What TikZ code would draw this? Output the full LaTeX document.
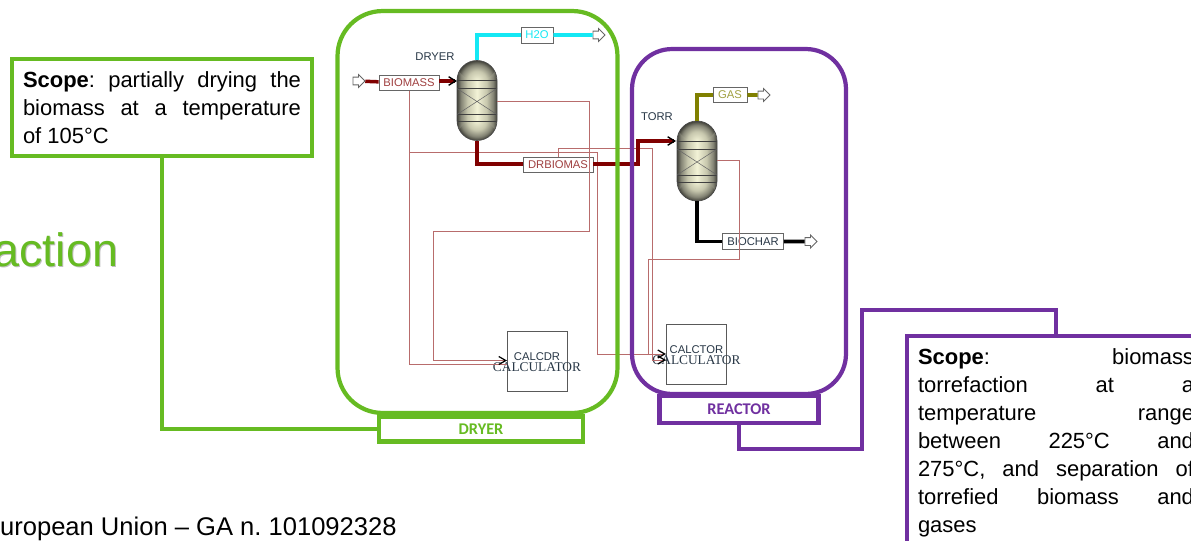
\documentclass[tikz,border=0pt]{standalone}
\usepackage{fontspec}
\setmainfont{Liberation Sans}
\newfontfamily\serifcalc{Liberation Serif}
\newfontfamily\tagfont{Carlito}
\usetikzlibrary{arrows.meta,positioning,shapes.arrows}
\frenchspacing
\definecolor{dryergreen}{RGB}{102,187,34}
\definecolor{reactpurple}{RGB}{112,48,160}
\definecolor{feedred}{RGB}{128,0,0}
\definecolor{signalred}{RGB}{184,108,108}
\definecolor{waterblue}{RGB}{20,232,244}
\definecolor{gasolive}{RGB}{128,128,0}
\definecolor{labeltext}{RGB}{40,55,70}
\pgfdeclarehorizontalshading{vesselbody}{100bp}{rgb(0bp)=(0.25,0.25,0.22); rgb(25bp)=(0.25,0.25,0.22); rgb(30bp)=(0.52,0.52,0.46); rgb(38bp)=(0.78,0.78,0.68); rgb(50bp)=(0.95,0.95,0.84); rgb(62bp)=(0.78,0.78,0.68); rgb(70bp)=(0.52,0.52,0.46); rgb(75bp)=(0.25,0.25,0.22); rgb(100bp)=(0.25,0.25,0.22)}
\pgfdeclareradialshading{vesselcap}{\pgfpointorigin}{rgb(0bp)=(0.95,0.95,0.84); rgb(12bp)=(0.78,0.78,0.68); rgb(20bp)=(0.52,0.52,0.46); rgb(25bp)=(0.25,0.25,0.22); rgb(50bp)=(0.25,0.25,0.22)}
\begin{document}
\begin{tikzpicture}[x=0.02cm, y=-0.02cm,
  vessel/.style={draw=black!70, line width=0.4pt, rounded corners=0.4cm, minimum width=0.8cm, minimum height=1.6cm, inner sep=0pt, shading=vesselbody, path picture={
    \begin{scope}[shift={(path picture bounding box.center)}]
    \begin{scope} \clip (-21,-41) rectangle (21,-20); \shade[shading=vesselcap] (0,-20) circle (20); \end{scope}
    \begin{scope} \clip (-21,20) rectangle (21,41); \shade[shading=vesselcap] (0,20) circle (20); \end{scope}
    \draw[black!75, line width=0.5pt] (-20,-20)--(20,-20) (-20,-12)--(20,-12) (-20,14)--(20,14) (-20,21)--(20,21);
    \draw[black!60, line width=0.3pt] (-20,-12)--(20,14) (-20,14)--(20,-12);
    \end{scope}}},
  streambox/.style={draw=black!60, fill=white, line width=0.5pt, inner sep=0pt, font=\fontsize{6.4}{7}\selectfont},
  calcbox/.style={draw=black!65, fill=white, line width=0.5pt, minimum width=1.2cm, minimum height=1.2cm, inner sep=0pt, align=center, text=labeltext, font=\fontsize{6.4}{6.2}\selectfont},
  outport/.style={single arrow, draw=black!60, fill=white, line width=0.5pt, minimum height=0.24cm, single arrow head extend=0.05cm, inner sep=0pt, execute at begin node={\rule{0pt}{0.14cm}}},
  stream/.style={line width=2pt},
  feedin/.style={stream, -{Straight Barb[length=1.4mm, width=1.7mm, line width=0.8pt, color=black]}},
  signal/.style={signalred, line width=0.52pt},
  signalin/.style={signal, -{Straight Barb[length=1.4mm, width=1.6mm, line width=0.7pt, color=black]}},
  frame/.style={line width=2.4pt, minimum width=5.6cm, inner sep=0pt},
  tagbox/.style={fill=white, line width=2.4pt, inner sep=0pt, font=\tagfont\bfseries\fontsize{9.3}{11}\selectfont},
  scopebox/.style={draw, fill=white, line width=2.4pt, inner xsep=0.22cm, inner ysep=0pt, align=justify, font=\fontsize{12.5}{15.9}\selectfont}]
\clip (0,0) rectangle (1191,541);
\node[text=black!25, anchor=base east, inner sep=0pt, font=\fontsize{26.6}{30}\selectfont] (titleshadow) at (119.5,267) {action};
\node[text=dryergreen, anchor=base east, inner sep=0pt, font=\fontsize{26.6}{30}\selectfont] (titlefrag) at (118.5,266) {action};
\node[anchor=base east, inner sep=0pt, font=\fontsize{14.55}{17}\selectfont] (footer) at (397,535) {uropean Union – GA n. 101092328};

\node[vessel] (dryer) at (477,100.5) {};
\node[vessel] (torr) at (697,161) {};
\node[font=\fontsize{6.4}{7}\selectfont, text=labeltext] (dryerlabel) at (435,57) {DRYER};
\node[font=\fontsize{6.4}{7}\selectfont, text=labeltext] (torrlabel) at (657,117) {TORR};
\node[outport] (feed) at (357,81) {};
\node[outport] (waterout) at (597,35) {};
\node[outport] (gasout) at (762,95) {};
\node[outport] (charout) at (809,241.5) {};
\node[streambox, minimum width=1.2cm, minimum height=0.29cm, text=feedred!75] (biomass) at (409,83) {BIOMASS};
\node[streambox, minimum width=0.64cm, minimum height=0.32cm, text=waterblue] (water) at (537,35) {H2O};
\node[streambox, minimum width=1.4cm, minimum height=0.3cm, text=feedred!75] (drbiomas) at (558,165) {DRBIOMAS};
\node[streambox, minimum width=0.68cm, minimum height=0.3cm, text=gasolive!75] (gas) at (730,95) {GAS};
\node[streambox, minimum width=1.22cm, minimum height=0.32cm, text=labeltext] (biochar) at (753,241.5) {BIOCHAR};
\node[calcbox] (calcdr) at (537,361) {\rule{0pt}{6.2pt}CALCDR\\\makebox[0pt]{\serifcalc\fontsize{7.6}{6.2}\selectfont CALCULATOR}};
\node[calcbox] (calctor) at (696.5,354) {\rule{0pt}{6.2pt}CALCTOR\\\makebox[0pt]{\serifcalc\fontsize{7.6}{6.2}\selectfont CALCULATOR}};
\coordinate (vesselin) at (457,81);
\coordinate (torrin) at (676,141);
\coordinate (dryside) at (497,101);
\coordinate (torrside) at (717,160);

\draw[signal] (biomass.south -| 409,0)--(409,364)--(507,364);
\draw[signalin] (dryside)--(589,101)--(589,231)--(433,231)--(433,360.5)--(507,360.5);
\draw[signalin] (409,152)--(597,152)--(597,354)--(666,354);
\draw[signalin] (drbiomas.north)--(558,148)--(652,148)--(652,360)--(666,360);
\draw[signal] (torrside)--(739,160)--(739,259)--(648,259)--(648,354);

\draw[stream, feedred] (feed)--(biomass);
\draw[feedin, feedred] (biomass.east |- vesselin)--(vesselin);
\draw[stream, feedred] (dryer.south)--(477,164)--(drbiomas.west |- 0,164);
\draw[feedin, feedred] (drbiomas.east |- 0,164)--(638,164)--(638,141)--(torrin);
\draw[stream, waterblue] (dryer.north) |- (water.west);
\draw[stream, waterblue] (water.east)--(waterout);
\draw[stream, gasolive] (torr.north) |- (gas.west);
\draw[stream, gasolive] (gas.east)--(gasout);
\draw[stream, black] (torr.south) |- (biochar.west);
\draw[stream, black] (biochar.east)--(charout);

\node[frame, draw=dryergreen, rounded corners=0.9cm, minimum height=8.04cm] (dryerframe) at (477.5,212) {};
\node[frame, draw=reactpurple, rounded corners=0.8cm, minimum width=4.28cm, minimum height=6.9cm] (reactframe) at (739,221.5) {};
\node[tagbox, draw=dryergreen, text=dryergreen, minimum width=4.08cm, minimum height=0.5cm] (dryertag) at (481,429) {DRYER};
\node[tagbox, draw=reactpurple, text=reactpurple, minimum width=3.18cm, minimum height=0.54cm] (reacttag) at (739,409.5) {REACTOR};

\node[scopebox, draw=dryergreen, text width=5.56cm, minimum height=1.94cm] (dryerscope) at (162,107.5) {\textbf{Scope}: partially drying the\linebreak biomass at a temperature\linebreak of 105°C};
\node[scopebox, draw=reactpurple, text width=5.52cm, minimum height=4.28cm] (reactscope) at (1056,443) {\textbf{Scope}: biomass\linebreak torrefaction at a\linebreak temperature range\linebreak between 225°C and\linebreak 275°C, and separation of\linebreak torrefied biomass and\linebreak gases};
\coordinate (reactbendA) at (862,449);
\coordinate (reactbendB) at (862,310);
\draw[line width=2.4pt, dryergreen] (dryerscope.south) |- (dryertag.west);
\draw[line width=2.4pt, reactpurple] (reacttag.south) |- (reactbendA)--(reactbendB) -| (reactscope.north);
\end{tikzpicture}
\end{document}
